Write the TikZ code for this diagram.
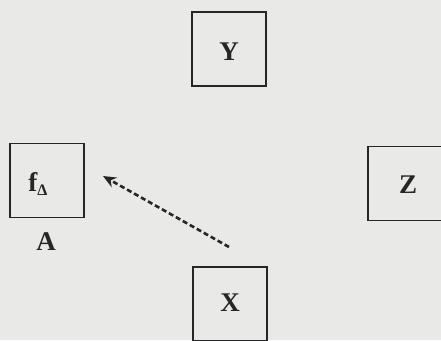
\documentclass[tikz,border=0pt]{standalone}
\usepackage{fontspec}
\setmainfont{Liberation Serif}
\usetikzlibrary{arrows.meta}
\definecolor{paper}{HTML}{E9E9E7}
\definecolor{ink}{HTML}{262626}
\begin{document}
\begin{tikzpicture}[x=1pt,y=-1pt,
  box/.style={draw=ink,line width=1.5pt,minimum width=74pt,minimum height=74pt,inner sep=0pt},
  lbl/.style={font=\fontsize{27}{27}\selectfont\bfseries,text=ink,inner sep=0pt}]
\useasboundingbox (0,0) rectangle (441,340);
\fill[paper] (0,0) rectangle (441,340);
\clip (0,0) rectangle (441,340);
\node[box] (Y) at (229,49) {};
\node[lbl] at (229,52) {Y};
\node[box] (F) at (47,180.5) {};
\node[lbl] at (38,184) {f\raisebox{-0.12em}{\fontsize{16}{16}\selectfont Δ}};
\node[box] (Z) at (405,183.5) {};
\node[lbl] at (408,185) {Z};
\node[box] (X) at (230,304) {};
\node[lbl] at (230,303) {X};
\node[lbl] (A) at (46,242) {A};
\coordinate (t) at (229,247);
\coordinate (h) at (103,176);
\draw[ink,line width=2.6pt,dash pattern=on 5pt off 3pt,-{Stealth[length=13pt,width=11pt]}] (t) -- (h);
\end{tikzpicture}
\end{document}
